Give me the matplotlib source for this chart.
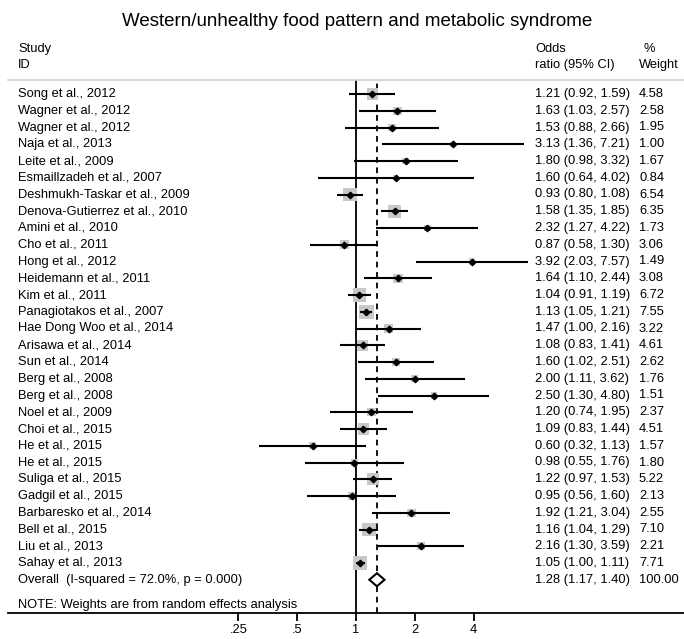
import matplotlib
matplotlib.use("Agg")
import matplotlib.pyplot as plt
import matplotlib.transforms as mtransforms
from matplotlib.patches import Polygon
from matplotlib.ticker import NullLocator

plt.rcParams["font.family"] = ["Liberation Sans", "DejaVu Sans"]

# study-level results
studies = [
    "Song et al., 2012", "Wagner et al., 2012", "Wagner et al., 2012",
    "Naja et al., 2013", "Leite et al., 2009", "Esmaillzadeh et al., 2007",
    "Deshmukh-Taskar et al., 2009", "Denova-Gutierrez et al., 2010",
    "Amini et al., 2010", "Cho et al., 2011", "Hong et al., 2012",
    "Heidemann et al., 2011", "Kim et al., 2011", "Panagiotakos et al., 2007",
    "Hae Dong Woo et al., 2014", "Arisawa et al., 2014", "Sun et al., 2014",
    "Berg et al., 2008", "Berg et al., 2008", "Noel et al., 2009",
    "Choi et al., 2015", "He et al., 2015", "He et al., 2015",
    "Suliga et al., 2015", "Gadgil et al., 2015", "Barbaresko et al., 2014",
    "Bell et al., 2015", "Liu et al., 2013", "Sahay et al., 2013",
]
odds = [1.21, 1.63, 1.53, 3.13, 1.80, 1.60, 0.93, 1.58, 2.32, 0.87, 3.92, 1.64,
        1.04, 1.13, 1.47, 1.08, 1.60, 2.00, 2.50, 1.20, 1.09, 0.60, 0.98, 1.22,
        0.95, 1.92, 1.16, 2.16, 1.05]
lower = [0.92, 1.03, 0.88, 1.36, 0.98, 0.64, 0.80, 1.35, 1.27, 0.58, 2.03, 1.10,
         0.91, 1.05, 1.00, 0.83, 1.02, 1.11, 1.30, 0.74, 0.83, 0.32, 0.55, 0.97,
         0.56, 1.21, 1.04, 1.30, 1.00]
upper = [1.59, 2.57, 2.66, 7.21, 3.32, 4.02, 1.08, 1.85, 4.22, 1.30, 7.57, 2.44,
         1.19, 1.21, 2.16, 1.41, 2.51, 3.62, 4.80, 1.95, 1.44, 1.13, 1.76, 1.53,
         1.60, 3.04, 1.29, 3.59, 1.11]
weights = [4.58, 2.58, 1.95, 1.00, 1.67, 0.84, 6.54, 6.35, 1.73, 3.06, 1.49, 3.08,
           6.72, 7.55, 3.22, 4.61, 2.62, 1.76, 1.51, 2.37, 4.51, 1.57, 1.80, 5.22,
           2.13, 2.55, 7.10, 2.21, 7.71]

# pooled estimate
overall_or = 1.28
overall_lo = 1.17
overall_hi = 1.40
overall_weight = 100.00
i_squared = 72.0
p_value = 0.000

tick_vals = [0.25, 0.5, 1, 2, 4]
tick_labels = [".25", ".5", "1", "2", "4"]

W, H = 684, 639
fig = plt.figure(figsize=(W / 100, H / 100), dpi=100)

# layout in pixels
left_px, right_px = 8, 684
top_px, bottom_px = 80, 613
row0_px, row_step = 94, 16.75
one_px, octave_px = 356, 58.8
fs = 9.3

ax = fig.add_axes([left_px / W, 1 - bottom_px / H,
                   (right_px - left_px) / W, (bottom_px - top_px) / H])
ax.set_xscale("log", base=2)
ax.set_xlim(2 ** ((left_px - one_px) / octave_px), 2 ** ((right_px - one_px) / octave_px))
ax.set_ylim((bottom_px - row0_px) / row_step, (top_px - row0_px) / row_step)

n = len(studies)
rows = list(range(n))

# reference lines
ax.axvline(1, color="black", lw=1.3, zorder=1)
ax.axvline(overall_or, color="black", lw=1.3, ls=(0, (3.2, 2.6)), zorder=1)

# weight boxes (area ~ weight), CIs and point estimates
box_sizes = [110 * w / max(weights) for w in weights]
ax.scatter(odds, rows, s=box_sizes, marker="s", color="#c8c8c8", linewidths=0, zorder=2)
ax.hlines(rows, lower, upper, color="black", lw=1.5, zorder=3)
ax.plot(odds, rows, "D", ms=3.3, color="black", zorder=4)

# pooled diamond
h = 0.39
diamond = Polygon([(overall_lo, n), (overall_or, n - h), (overall_hi, n), (overall_or, n + h)],
                  closed=True, facecolor="white", edgecolor="black", lw=1.5, zorder=5)
ax.add_patch(diamond)

for side in ["left", "right"]:
    ax.spines[side].set_visible(False)
ax.spines["top"].set_color("#cfcfcf")
ax.spines["top"].set_linewidth(1.2)
ax.spines["bottom"].set_linewidth(1.3)

ax.set_xticks(tick_vals)
ax.set_xticklabels(tick_labels)
ax.xaxis.set_minor_locator(NullLocator())
ax.tick_params(axis="x", direction="out", length=6, width=1.3, labelsize=fs, pad=2)
ax.set_yticks([])

# text columns
blend = mtransforms.blended_transform_factory(fig.transFigure, ax.transData)
x_name, x_or, x_wt = 18 / W, 535 / W, 639 / W
for i, name in enumerate(studies):
    ax.text(x_name, i, name, transform=blend, va="center", ha="left", fontsize=fs)
    ax.text(x_or, i, f"{odds[i]:.2f} ({lower[i]:.2f}, {upper[i]:.2f})",
            transform=blend, va="center", ha="left", fontsize=fs)
    ax.text(x_wt, i, f"{weights[i]:.2f}", transform=blend, va="center", ha="left", fontsize=fs)

ax.text(x_name, n, f"Overall  (I-squared = {i_squared:.1f}%, p = {p_value:.3f})",
        transform=blend, va="center", ha="left", fontsize=fs)
ax.text(x_or, n, f"{overall_or:.2f} ({overall_lo:.2f}, {overall_hi:.2f})",
        transform=blend, va="center", ha="left", fontsize=fs)
ax.text(x_wt, n, f"{overall_weight:.2f}",
        transform=blend, va="center", ha="left", fontsize=fs)
ax.text(x_name, n + 1.5, "NOTE: Weights are from random effects analysis",
        transform=blend, va="center", ha="left", fontsize=fs)

# headers
fig.text(x_name, 1 - 49 / H, "Study", va="center", ha="left", fontsize=fs)
fig.text(x_name, 1 - 65 / H, "ID", va="center", ha="left", fontsize=fs)
fig.text(x_or, 1 - 49 / H, "Odds", va="center", ha="left", fontsize=fs)
fig.text(x_or, 1 - 65 / H, "ratio (95% CI)", va="center", ha="left", fontsize=fs)
fig.text(644 / W, 1 - 49 / H, "%", va="center", ha="left", fontsize=fs)
fig.text(x_wt, 1 - 65 / H, "Weight", va="center", ha="left", fontsize=fs)

fig.text(357 / W, 1 - 22 / H, "Western/unhealthy food pattern and metabolic syndrome",
         ha="center", va="center", fontsize=13.5)

fig.savefig("out.png", dpi=100)
